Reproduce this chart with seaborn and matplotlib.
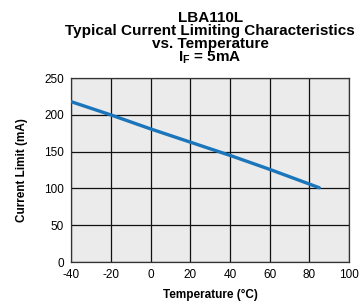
import pandas as pd
import seaborn as sns
import matplotlib.pyplot as plt

# Data
temperature = [-40, -20, 0, 20, 40, 60, 80, 85]
current_limit = [218, 200, 181, 163, 145, 126, 106, 101]

x_ticks = [-40, -20, 0, 20, 40, 60, 80, 100]
y_ticks = [0, 50, 100, 150, 200, 250]

df = pd.DataFrame({"Temperature": temperature, "Current": current_limit})

sns.set_style("white", {"axes.facecolor": "#ebebeb", "text.color": "black",
                        "xtick.color": "black", "ytick.color": "black",
                        "axes.labelcolor": "black"})
plt.rcParams["font.family"] = ["Liberation Sans", "DejaVu Sans"]
plt.rcParams["axes.unicode_minus"] = False
plt.rcParams["mathtext.fontset"] = "custom"
plt.rcParams["mathtext.bf"] = "Liberation Sans:bold"
plt.rcParams["mathtext.rm"] = "Liberation Sans:bold"

fig = plt.figure(figsize=(3.61, 3.04), dpi=100)
ax = fig.add_axes([0.197, 0.138, 0.770, 0.605])

sns.lineplot(data=df, x="Temperature", y="Current", ax=ax,
             color="#1a75bb", linewidth=2.4, zorder=3)

ax.set_xlim(-40, 100)
ax.set_ylim(0, 250)
ax.set_xticks(x_ticks)
ax.set_yticks(y_ticks)
ax.grid(True, color="#111111", linewidth=0.9)
ax.tick_params(length=0, labelsize=8.5, pad=5)

for s in ax.spines.values():
    s.set_color("#333333")
    s.set_linewidth(0.9)

ax.set_xlabel("Temperature (°C)", fontsize=8.5, fontweight="bold", labelpad=6)
ax.set_ylabel("Current Limit (mA)", fontsize=8.5, fontweight="bold", labelpad=12)

ax.set_title("LBA110L\nTypical Current Limiting Characteristics\nvs. Temperature\n"
             r"I$_{\mathrm{F}}$ = 5mA",
             fontsize=11, fontweight="bold", linespacing=0.9, pad=12)

plt.savefig("out.png", dpi=100)
